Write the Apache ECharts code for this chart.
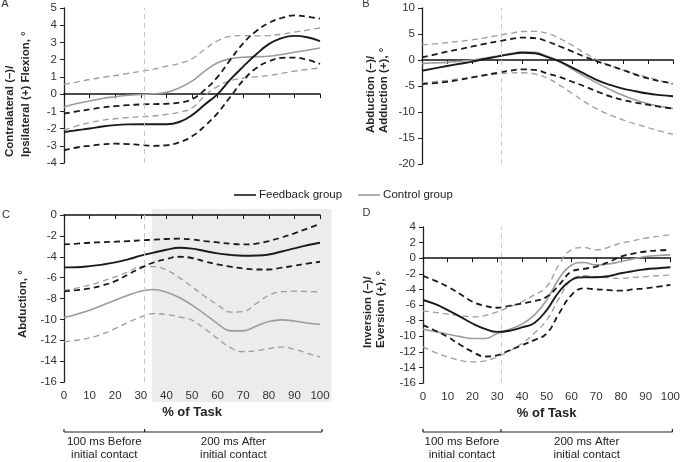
<!DOCTYPE html>
<html>
<head>
<meta charset="utf-8">
<style>
html, body { margin: 0; padding: 0; background: #fff; }
#chart { width: 683px; height: 462px; }
</style>
<script src="https://cdn.jsdelivr.net/npm/echarts@6/dist/echarts.min.js"></script>
</head>
<body>
<div id="chart"></div>
<script>
// % of task, sampled every 5 %
const pct = [0, 5, 10, 15, 20, 25, 30, 35, 40, 45, 50, 55, 60, 65, 70, 75, 80, 85, 90, 95, 100];

// A - trunk lateral flexion
const fbMeanA = [-2.2, -2.1, -2.0, -1.88, -1.8, -1.76, -1.75, -1.75, -1.75, -1.62, -1.22, -0.6, 0.0, 0.85, 1.6, 2.3, 2.9, 3.25, 3.38, 3.3, 3.07];
const fbUpA = [-1.14, -1.0, -0.89, -0.78, -0.7, -0.64, -0.6, -0.58, -0.56, -0.5, -0.3, 0.25, 1.0, 2.0, 2.95, 3.65, 4.13, 4.42, 4.57, 4.5, 4.38];
const fbLoA = [-3.26, -3.1, -3.0, -2.92, -2.88, -2.9, -2.95, -3.0, -2.97, -2.8, -2.45, -1.85, -1.1, -0.15, 0.8, 1.5, 1.9, 2.1, 2.12, 2.0, 1.75];
const ctMeanA = [-0.75, -0.55, -0.4, -0.25, -0.15, -0.07, -0.02, 0.02, 0.1, 0.35, 0.75, 1.33, 1.82, 2.06, 2.14, 2.17, 2.2, 2.3, 2.43, 2.55, 2.68];
const ctUpA = [0.56, 0.7, 0.85, 0.97, 1.08, 1.2, 1.32, 1.45, 1.62, 1.78, 2.05, 2.6, 3.1, 3.35, 3.4, 3.38, 3.4, 3.48, 3.6, 3.72, 3.84];
const ctLoA = [-2.08, -1.85, -1.66, -1.52, -1.43, -1.36, -1.31, -1.27, -1.18, -1.05, -0.8, -0.1, 0.45, 0.78, 0.92, 1.0, 1.08, 1.2, 1.33, 1.43, 1.52];

// B - hip abduction/adduction
const fbMeanB = [-2.06, -1.6, -1.16, -0.73, -0.3, 0.2, 0.65, 1.1, 1.4, 1.3, 0.55, -0.3, -1.5, -2.7, -3.9, -4.8, -5.5, -6.0, -6.45, -6.75, -6.97];
const fbUpB = [0.5, 1.05, 1.6, 2.1, 2.6, 3.1, 3.55, 4.0, 4.3, 4.2, 3.55, 2.6, 1.6, 0.6, -0.3, -1.1, -1.9, -2.8, -3.55, -4.1, -4.5];
const fbLoB = [-4.65, -4.45, -4.2, -3.8, -3.35, -2.9, -2.45, -2.05, -1.8, -1.9, -2.6, -3.3, -4.2, -5.1, -6.1, -7.0, -7.7, -8.2, -8.6, -9.0, -9.35];
const ctMeanB = [-0.65, -0.55, -0.45, -0.25, 0.0, 0.35, 0.77, 1.2, 1.6, 1.5, 0.7, -0.4, -1.8, -3.2, -4.5, -5.7, -6.8, -7.7, -8.4, -8.95, -9.35];
const ctUpB = [2.9, 3.1, 3.35, 3.6, 3.87, 4.25, 4.7, 5.1, 5.48, 5.5, 5.1, 4.1, 2.8, 1.3, 0.0, -1.1, -1.94, -2.65, -3.3, -4.0, -4.65];
const ctLoB = [-4.4, -4.15, -3.9, -3.6, -3.35, -3.0, -2.7, -2.5, -2.45, -2.7, -3.5, -4.9, -6.5, -8.1, -9.5, -10.6, -11.5, -12.3, -13.0, -13.7, -14.3];

// C - knee abduction
const fbMeanC = [-5.02, -5.0, -4.9, -4.75, -4.54, -4.25, -3.9, -3.6, -3.33, -3.14, -3.22, -3.45, -3.68, -3.82, -3.9, -3.88, -3.78, -3.5, -3.2, -2.9, -2.66];
const fbUpC = [-2.82, -2.75, -2.66, -2.6, -2.56, -2.5, -2.43, -2.36, -2.3, -2.27, -2.35, -2.5, -2.62, -2.75, -2.82, -2.75, -2.5, -2.15, -1.76, -1.3, -0.86];
const fbLoC = [-7.3, -7.2, -7.04, -6.75, -6.34, -5.7, -5.06, -4.55, -4.22, -4.0, -4.12, -4.45, -4.74, -4.95, -5.12, -5.22, -5.22, -5.05, -4.86, -4.65, -4.48];
const ctMeanC = [-9.82, -9.5, -9.12, -8.65, -8.16, -7.7, -7.3, -7.14, -7.4, -7.9, -8.64, -9.5, -10.4, -11.1, -11.1, -10.65, -10.2, -10.05, -10.15, -10.35, -10.46];
const ctUpC = [-7.23, -7.0, -6.72, -6.35, -5.92, -5.45, -4.96, -4.95, -5.28, -6.0, -6.88, -7.8, -8.6, -9.3, -9.25, -8.5, -7.7, -7.35, -7.3, -7.33, -7.36];
const ctLoC = [-12.16, -12.0, -11.78, -11.4, -10.88, -10.3, -9.76, -9.45, -9.54, -9.75, -10.08, -10.9, -11.84, -12.7, -13.1, -13.0, -12.8, -12.65, -12.86, -13.25, -13.6];

// D - ankle inversion/eversion
const fbMeanD = [-5.36, -5.9, -6.65, -7.5, -8.37, -9.05, -9.45, -9.3, -8.88, -8.3, -6.65, -4.3, -2.79, -2.45, -2.45, -2.3, -1.93, -1.65, -1.42, -1.28, -1.16];
const fbUpD = [-2.27, -2.9, -3.65, -4.6, -5.58, -6.1, -6.35, -6.1, -5.8, -5.5, -4.94, -3.43, -1.72, -1.37, -1.07, -0.5, 0.21, 0.6, 0.86, 1.0, 1.07];
const fbLoD = [-8.58, -9.3, -10.1, -11.1, -12.0, -12.6, -12.45, -11.8, -11.16, -10.5, -9.66, -7.08, -4.72, -3.86, -3.99, -4.08, -4.16, -4.0, -3.86, -3.65, -3.43];
const ctMeanD = [-9.1, -9.4, -9.74, -10.05, -10.3, -10.3, -9.66, -9.1, -8.45, -7.3, -5.36, -2.6, -0.9, -0.55, -0.86, -0.75, -0.43, -0.1, 0.21, 0.35, 0.43];
const ctUpD = [-6.74, -6.95, -7.17, -7.35, -7.51, -7.35, -6.87, -6.25, -5.58, -4.7, -3.65, -0.8, 1.07, 1.37, 1.07, 1.4, 1.93, 2.25, 2.58, 2.8, 3.0];
const ctLoD = [-11.37, -12.1, -12.66, -13.1, -13.3, -13.15, -12.66, -11.9, -10.94, -9.6, -7.94, -5.15, -2.79, -2.25, -2.36, -2.5, -2.58, -2.47, -2.36, -2.25, -2.15];

const CONTACT = 31.5;      // initial contact, % of task
const SHADE = [34.3, 104.5];

const FONT = 'Liberation Sans, Arial, sans-serif';
const BLACK = '#1a1a1a';
const GREY = '#9c9c9c';
const TEXT = '#333';

const grids = [
  { left: 64, top: 8, width: 256, height: 155 },
  { left: 422, top: 8, width: 251, height: 156 },
  { left: 64, top: 215, width: 256, height: 167 },
  { left: 423, top: 227, width: 250, height: 156 }
];
const yRanges = [[-4, 5, 1], [-20, 10, 5], [-16, 0, 2], [-16, 4, 2]];

const panels = [
  [fbMeanA, fbUpA, fbLoA, ctMeanA, ctUpA, ctLoA],
  [fbMeanB, fbUpB, fbLoB, ctMeanB, ctUpB, ctLoB],
  [fbMeanC, fbUpC, fbLoC, ctMeanC, ctUpC, ctLoC],
  [fbMeanD, fbUpD, fbLoD, ctMeanD, ctUpD, ctLoD]
];

const chart = echarts.init(document.getElementById('chart'));

const yAxis = yRanges.map((r, i) => ({
  type: 'value',
  gridIndex: i,
  min: r[0],
  max: r[1],
  interval: r[2],
  axisLine: { show: true, onZero: false, lineStyle: { color: '#222', width: 1.3 } },
  axisTick: { show: true, length: 4, lineStyle: { color: '#222' } },
  axisLabel: { fontFamily: FONT, fontSize: 11.5, color: TEXT, margin: 7 },
  splitLine: { show: false }
}));

const xAxis = grids.map((g, i) => ({
  type: 'value',
  gridIndex: i,
  min: 0,
  max: 100,
  interval: 10,
  axisLine: { onZero: true, lineStyle: { color: '#111', width: 1.5 } },
  axisTick: { show: true, length: 4, lineStyle: { color: '#111' } },
  axisLabel: { show: false },
  splitLine: { show: false }
}));
// bottom label axes for C and D
[2, 3].forEach(i => {
  xAxis.push({
    type: 'value',
    gridIndex: i,
    position: 'bottom',
    min: 0,
    max: 100,
    interval: 10,
    axisLine: { show: false, onZero: false },
    axisTick: { show: false },
    axisLabel: { fontFamily: FONT, fontSize: 11.5, color: TEXT, margin: 8 },
    splitLine: { show: false },
    name: '% of Task',
    nameLocation: 'middle',
    nameGap: 24,
    nameTextStyle: { fontFamily: FONT, fontSize: 13, fontWeight: 'bold', color: '#222' }
  });
});

function line(i, name, values, color, dashed, width) {
  return {
    type: 'line',
    name: name,
    xAxisIndex: i,
    yAxisIndex: i,
    data: pct.map((x, k) => [x, values[k]]),
    smooth: 0.45,
    symbol: 'none',
    showSymbol: false,
    itemStyle: { color: color },
    lineStyle: { color: color, width: width, type: dashed ? [6, 4] : 'solid' }
  };
}

const series = [];
panels.forEach((p, i) => {
  const ctUp = line(i, 'ci-c', p[4], GREY, true, 1.3);
  ctUp.markLine = {
    silent: true,
    symbol: ['none', 'none'],
    label: { show: false },
    lineStyle: { color: '#c8c8c8', type: [5, 4], width: 1 },
    data: [{ xAxis: CONTACT }]
  };
  series.push(ctUp);
  series.push(line(i, 'ci-c', p[5], GREY, true, 1.3));
  series.push(line(i, 'Control group', p[3], GREY, false, 1.6));
  series.push(line(i, 'ci-f', p[1], BLACK, true, 1.8));
  series.push(line(i, 'ci-f', p[2], BLACK, true, 1.8));
  series.push(line(i, 'Feedback group', p[0], BLACK, false, 1.9));
});

chart.setOption({
  animation: false,
  backgroundColor: '#fff',
  textStyle: { fontFamily: FONT },
  grid: grids,
  xAxis: xAxis,
  yAxis: yAxis,
  legend: {
    data: ['Feedback group', 'Control group'],
    left: 229,
    top: 184,
    icon: 'rect',
    itemWidth: 22,
    itemHeight: 1.6,
    itemGap: 16,
    selectedMode: false,
    textStyle: { fontFamily: FONT, fontSize: 11.5, color: '#222', padding: [0, 0, 0, -2] }
  },
  series: series
});

// annotations tied to the axes
const px = (ax, v) => chart.convertToPixel({ xAxisIndex: ax }, v);
const graphic = [];

// shaded post-contact window in C
const c = grids[2];
graphic.push({
  type: 'rect',
  z: -10,
  shape: { x: px(2, SHADE[0]), y: c.top - 6, width: px(2, SHADE[1]) - px(2, SHADE[0]), height: c.height + 26 },
  style: { fill: '#ebedeb' }
});

// phase brackets under C and D
[2, 3].forEach(ax => {
  const y = 432;
  const x0 = px(ax, 0), xm = px(ax, CONTACT), x1 = px(ax, 100.8);
  const st = { stroke: '#222', lineWidth: 1.2 };
  graphic.push({ type: 'line', shape: { x1: x0, y1: y, x2: x1, y2: y }, style: st });
  [x0, xm, x1].forEach(x => graphic.push({ type: 'line', shape: { x1: x, y1: y - 3, x2: x, y2: y }, style: st }));
  graphic.push({
    type: 'text', x: (x0 + xm) / 2, y: 435.5,
    style: { text: '100 ms Before\ninitial contact', align: 'center', verticalAlign: 'top', lineHeight: 13, fontSize: 11.5, fontFamily: FONT, fill: '#222' }
  });
  graphic.push({
    type: 'text', x: (xm + x1) / 2, y: 435.5,
    style: { text: '200 ms After\ninitial contact', align: 'center', verticalAlign: 'top', lineHeight: 13, fontSize: 11.5, fontFamily: FONT, fill: '#222' }
  });
});

// y axis titles
const titles = [
  { text: 'Contralateral (–)/\nIpsilateral (+) Flexion, °', x: 2, y: 157, lh: 16 },
  { text: 'Abduction (–)/\nAdduction (+), °', x: 364, y: 133, lh: 13 },
  { text: 'Abduction, °', x: 16.5, y: 338, lh: 13 },
  { text: 'Inversion (–)/\nEversion (+), °', x: 361.5, y: 348, lh: 13 }
];
titles.forEach(t => graphic.push({
  type: 'text', x: t.x, y: t.y, rotation: Math.PI / 2,
  style: { text: t.text, align: 'left', verticalAlign: 'top', lineHeight: t.lh, fontSize: 11.5, fontWeight: 'bold', fontFamily: FONT, fill: '#262626' }
}));

// panel letters
[['A', 5, 4], ['B', 366, 3.5], ['C', 6, 215], ['D', 366.5, 213]].forEach(l => graphic.push({
  type: 'text', x: l[1], y: l[2],
  style: { text: l[0], align: 'center', verticalAlign: 'middle', fontSize: 11, fontFamily: FONT, fill: '#333' }
}));

chart.setOption({ graphic: graphic });
</script>
</body>
</html>
